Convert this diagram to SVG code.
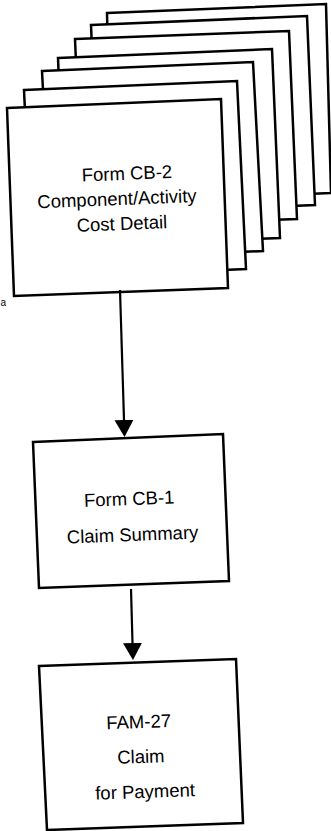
<svg xmlns="http://www.w3.org/2000/svg" width="331" height="831" viewBox="0 0 331 831">
<style>
.pg{fill:#fff;stroke:#000;stroke-width:2.5;stroke-linejoin:miter}
.t{font-family:"Liberation Sans",Arial,sans-serif;font-size:18.5px;fill:#000;text-anchor:middle}
.c{fill:none;stroke:#000;stroke-width:2.2}
</style>
<defs>
<marker id="ah" markerUnits="userSpaceOnUse" markerWidth="18" markerHeight="20" refX="0" refY="9.5" orient="auto">
<path d="M0,0 L17,9.5 L0,19 Z" fill="#000"/>
</marker>
</defs>
<rect width="331" height="831" fill="#fff"/>
<g id="cb2-stack">
<polygon class="pg" points="107,13 326,4 331,193 112,202"/>
<polygon class="pg" points="91,25 307,16 315,205 99,214"/>
<polygon class="pg" points="75,39 289,31 297,219 83,227"/>
<polygon class="pg" points="58,58 272,49 280,238 66,247"/>
<polygon class="pg" points="42,71 253,62 263,251 52,260"/>
<polygon class="pg" points="24,90 237,81 246,269 33,278"/>
</g>
<g id="cb2">
<polygon class="pg" points="7,108 221,99 228,288 14,296"/>
<g transform="rotate(-2.3 120 200)">
<text class="t" x="128" y="180">Form CB-2</text>
<text class="t" x="117" y="205">Component/Activity</text>
<text class="t" x="121" y="230">Cost Detail</text>
</g>
</g>
<g id="cb1">
<polygon class="pg" points="33,442 223,434 229,581 39,588"/>
<g transform="rotate(-2.2 131 520)">
<text class="t" x="130" y="505">Form CB-1</text>
<text class="t" x="132" y="541">Claim Summary</text>
</g>
</g>
<g id="fam27">
<polygon class="pg" points="39,666 236,659 243,823 47,830"/>
<g transform="rotate(-2 141 760)">
<text class="t" x="140" y="728">FAM-27</text>
<text class="t" x="141" y="763">Claim</text>
<text class="t" x="144" y="798">for Payment</text>
</g>
</g>
<g id="connectors">
<line class="c" x1="120" y1="290" x2="124" y2="420" marker-end="url(#ah)"/>
<line class="c" x1="131" y1="589" x2="132.5" y2="643" marker-end="url(#ah)"/>
</g>
<text x="0.5" y="306" style="font-family:'Liberation Sans',Arial,sans-serif;font-size:10px;fill:#000">a</text>
</svg>
